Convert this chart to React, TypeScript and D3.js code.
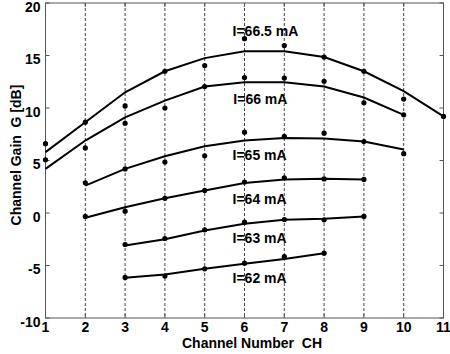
import { useEffect, useRef } from 'react'
import * as d3 from 'd3'

// channel numbers on the x axis
const xTicks = [1, 2, 3, 4, 5, 6, 7, 8, 9, 10, 11]
const yTicks = [-10, -5, 0, 5, 10, 15, 20]
const gridX = [2, 3, 4, 5, 6, 7, 8, 9, 10]

// one entry per drive current: first channel, fitted curve, measured points
const currents = ['I=66.5 mA', 'I=66 mA', 'I=65 mA', 'I=64 mA', 'I=63 mA', 'I=62 mA']
const startCh = [1, 1, 2, 2, 3, 3]
const fitted = [
  [5.8, 8.65, 11.5, 13.5, 14.75, 15.4, 15.4, 14.85, 13.5, 11.6, 9.2],
  [4.2, 6.9, 9.1, 10.7, 12.05, 12.45, 12.45, 12.05, 11.0, 9.35],
  [2.6, 4.2, 5.4, 6.35, 6.9, 7.15, 7.1, 6.8, 6.05],
  [-0.45, 0.55, 1.4, 2.15, 2.85, 3.2, 3.25, 3.2],
  [-3.1, -2.5, -1.67, -1.03, -0.65, -0.55, -0.33],
  [-6.17, -5.86, -5.32, -4.84, -4.37, -3.83],
]
const measured = [
  [6.6, 8.65, 10.2, 13.5, 14.05, 16.6, 15.95, 14.85, 13.5, 10.85, 9.2],
  [5.07, 6.2, 8.55, 10.0, 12.05, 12.9, 12.85, 12.55, 10.5, 9.35],
  [2.87, 4.2, 4.85, 5.45, 7.7, 7.3, 7.6, 6.8, 5.65],
  [-0.33, 0.17, 1.4, 2.15, 2.95, 3.35, 3.25, 3.2],
  [-3.0, -2.43, -1.6, -0.87, -0.62, -0.65, -0.33],
  [-6.14, -6.0, -5.32, -4.78, -4.15, -3.83],
]
// where each current label sits (channel, gain)
const labelCh = [5.7, 5.72, 5.7, 5.7, 5.7, 5.7]
const labelG = [17.29, 10.9, 5.48, 1.35, -2.4, -6.17]

const W = 450
const H = 354
const FONT = '"Liberation Sans", Arial, sans-serif'

export default function App() {
  const svgRef = useRef<SVGSVGElement>(null)

  useEffect(() => {
    const svg = d3.select(svgRef.current)
    svg.selectAll('*').remove()

    const x = d3.scaleLinear().domain([1, 11]).range([45.5, 443.5])
    const y = d3.scaleLinear().domain([-10, 20]).range([318, 3])
    const [x0, x1] = x.range()
    const [y0, y1] = y.range()

    // dashed channel grid
    svg.append('g').selectAll('line').data(gridX).join('line')
      .attr('x1', d => x(d)).attr('x2', d => x(d)).attr('y1', y1).attr('y2', y0)
      .attr('stroke', '#444').attr('stroke-width', 1).attr('stroke-dasharray', '3,2')

    // frame + inner ticks
    svg.append('rect').attr('x', x0).attr('y', y1).attr('width', x1 - x0).attr('height', y0 - y1)
      .attr('fill', 'none').attr('stroke', '#555').attr('stroke-width', 1)
    const tk = svg.append('g').attr('stroke', '#555').attr('stroke-width', 1)
    for (const v of yTicks) {
      tk.append('line').attr('x1', x0).attr('x2', x0 + 4).attr('y1', y(v)).attr('y2', y(v))
      tk.append('line').attr('x1', x1).attr('x2', x1 - 4).attr('y1', y(v)).attr('y2', y(v))
    }
    for (const v of xTicks) {
      tk.append('line').attr('x1', x(v)).attr('x2', x(v)).attr('y1', y0).attr('y2', y0 - 4)
      tk.append('line').attr('x1', x(v)).attr('x2', x(v)).attr('y1', y1).attr('y2', y1 + 4)
    }

    const txt = (sel: any) => sel.attr('font-family', FONT).attr('font-weight', 'bold').attr('font-size', 14)
      .attr('fill', '#000').style('white-space', 'pre')

    svg.append('g').selectAll('text').data(yTicks).join('text')
      .attr('x', x0 - 5).attr('y', d => y(d) + 8.5).attr('text-anchor', 'end').text(d => d)
      .call(txt)
    svg.append('g').selectAll('text').data(xTicks).join('text')
      .attr('x', d => x(d)).attr('y', 332).attr('text-anchor', 'middle').text(d => d)
      .call(txt)

    svg.append('text').attr('x', 252).attr('y', 348).attr('text-anchor', 'middle')
      .text('Channel Number  CH').call(txt)
    svg.append('text').attr('transform', `translate(21,155) rotate(-90)`).attr('text-anchor', 'middle')
      .text('Channel Gain  G [dB]').call(txt)

    const line = d3.line<[number, number]>().x(d => x(d[0])).y(d => y(d[1]))
    currents.forEach((name, i) => {
      const fit = fitted[i].map((v, j) => [startCh[i] + j, v] as [number, number])
      const pts = measured[i].map((v, j) => [startCh[i] + j, v] as [number, number])
      svg.append('path').datum(fit).attr('d', line)
        .attr('fill', 'none').attr('stroke', '#000').attr('stroke-width', 2)
      svg.append('g').selectAll('circle').data(pts).join('circle')
        .attr('cx', d => x(d[0])).attr('cy', d => y(d[1])).attr('r', 2.6).attr('fill', '#000')
      svg.append('text').attr('x', x(labelCh[i])).attr('y', y(labelG[i]) + 5)
        .text(name).call(txt)
    })
  }, [])

  return (
    <div>
      <style>{'body{margin:0}'}</style>
      <svg ref={svgRef} width={W} height={H} style={{ display: 'block', background: '#fff' }} />
    </div>
  )
}
